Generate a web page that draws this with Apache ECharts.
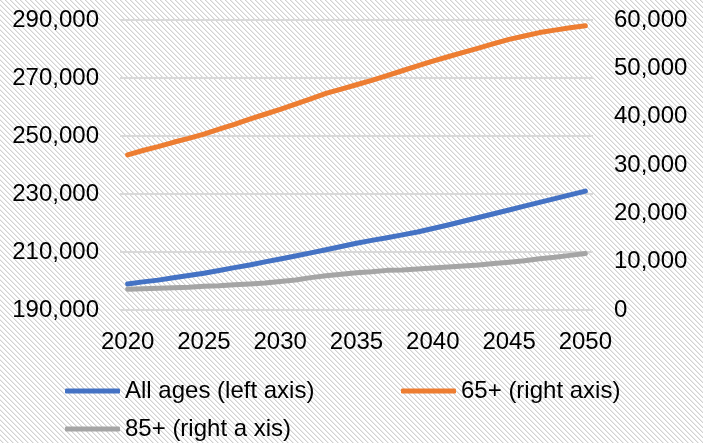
<!DOCTYPE html>
<html>
<head>
<meta charset="utf-8">
<script src="https://cdn.jsdelivr.net/npm/echarts@6/dist/echarts.min.js"></script>
<style>
  html, body { margin: 0; padding: 0; background: #fff; }
  #chart { width: 703px; height: 443px; }
</style>
</head>
<body>
<div id="chart"></div>
<script>
// Projection years
const years = [
  '2020','2021','2022','2023','2024','2025','2026','2027','2028','2029','2030',
  '2031','2032','2033','2034','2035','2036','2037','2038','2039','2040',
  '2041','2042','2043','2044','2045','2046','2047','2048','2049','2050'
];

// Population, all ages (left axis)
const allAges = [
  199000, 199700, 200300, 201100, 201900, 202700, 203600, 204600, 205500, 206600, 207600,
  208600, 209700, 210800, 211900, 213000, 214000, 214900, 215900, 216900, 218100,
  219300, 220600, 221900, 223200, 224500, 225800, 227100, 228400, 229700, 231000
];

// Population aged 65+ (right axis)
const age65plus = [
  32100, 33000, 33800, 34700, 35500, 36400, 37400, 38400, 39500, 40500, 41500,
  42600, 43700, 44800, 45700, 46600, 47500, 48500, 49500, 50500, 51500,
  52400, 53300, 54200, 55100, 56000, 56700, 57400, 57900, 58400, 58800
];

// Population aged 85+ (right axis)
const age85plus = [
  4300, 4400, 4500, 4600, 4700, 4900, 5000, 5200, 5400, 5600, 5900,
  6200, 6700, 7100, 7400, 7700, 7900, 8200, 8300, 8500, 8700,
  8900, 9100, 9300, 9600, 9900, 10200, 10600, 10900, 11300, 11700
];

const seriesNames = ['All ages (left axis)', '65+ (right axis)', '85+ (right a xis)'];
const seriesColors = ['#4472C4', '#ED7D31', '#A5A5A5'];

// Light downward-diagonal hatch used as the page fill
function hatchTile() {
  const n = 5;
  const c = document.createElement('canvas');
  c.width = n; c.height = n;
  const ctx = c.getContext('2d');
  ctx.fillStyle = '#ffffff';
  ctx.fillRect(0, 0, n, n);
  for (let y = 0; y < n; y++) {
    for (let x = 0; x < n; x++) {
      const d = ((x - y) % n + n) % n;
      if (d === 0) { ctx.fillStyle = '#d2d2d2'; ctx.fillRect(x, y, 1, 1); }
      else if (d === 1) { ctx.fillStyle = '#ebebeb'; ctx.fillRect(x, y, 1, 1); }
    }
  }
  return c;
}

const fmt = v => Number(v).toLocaleString('en-US');
const font = 'Liberation Sans, Arial, sans-serif';
const fs = 24;

const chart = echarts.init(document.getElementById('chart'), null, { renderer: 'canvas' });

function legendFor(name, left, top) {
  return {
    data: [name],
    left: left,
    top: top,
    padding: 0,
    icon: 'roundRect',
    itemWidth: 55,
    itemHeight: 5,
    selectedMode: false,
    textStyle: { fontFamily: font, fontSize: fs, color: '#000' }
  };
}

chart.setOption({
  backgroundColor: { image: hatchTile(), repeat: 'repeat' },
  animation: false,
  grid: { left: 120, right: 110, top: 20, bottom: 133 },
  legend: [
    legendFor(seriesNames[0], 65, 379),
    legendFor(seriesNames[1], 401, 379),
    legendFor(seriesNames[2], 65, 417)
  ],
  xAxis: {
    type: 'category',
    data: years,
    boundaryGap: true,
    axisLine: { show: false },
    axisTick: { show: false },
    axisLabel: {
      interval: 4,
      margin: 20,
      fontFamily: font, fontSize: fs, color: '#000'
    },
    splitLine: { show: false }
  },
  yAxis: [
    {
      type: 'value',
      min: 190000, max: 290000, interval: 20000,
      axisLine: { show: false },
      axisTick: { show: false },
      axisLabel: { margin: 21, formatter: fmt, fontFamily: font, fontSize: fs, color: '#000' },
      splitLine: { show: true, lineStyle: { color: '#d9d9d9', width: 2 } }
    },
    {
      type: 'value',
      min: 0, max: 60000, interval: 10000,
      position: 'right',
      axisLine: { show: false },
      axisTick: { show: false },
      axisLabel: { margin: 21, formatter: fmt, fontFamily: font, fontSize: fs, color: '#000' },
      splitLine: { show: false }
    }
  ],
  series: [
    {
      name: seriesNames[0], type: 'line', yAxisIndex: 0, data: allAges,
      showSymbol: false, symbol: 'none',
      lineStyle: { color: seriesColors[0], width: 5, cap: 'round', join: 'round' },
      itemStyle: { color: seriesColors[0] }
    },
    {
      name: seriesNames[1], type: 'line', yAxisIndex: 1, data: age65plus,
      showSymbol: false, symbol: 'none',
      lineStyle: { color: seriesColors[1], width: 5, cap: 'round', join: 'round' },
      itemStyle: { color: seriesColors[1] }
    },
    {
      name: seriesNames[2], type: 'line', yAxisIndex: 1, data: age85plus,
      showSymbol: false, symbol: 'none',
      lineStyle: { color: seriesColors[2], width: 5, cap: 'round', join: 'round' },
      itemStyle: { color: seriesColors[2] }
    }
  ]
});
</script>
</body>
</html>
